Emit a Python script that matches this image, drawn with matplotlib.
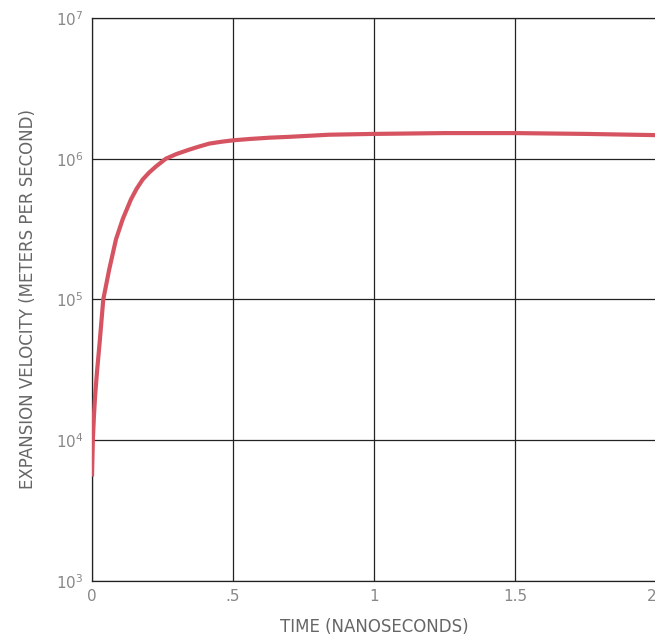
import matplotlib.pyplot as plt
import numpy as np

# time (ns) and expansion velocity (m/s)
time_ns = [0.0, 0.003, 0.007, 0.011, 0.018, 0.027, 0.040, 0.061, 0.085,
           0.109, 0.138, 0.158, 0.179, 0.202, 0.227, 0.262, 0.30, 0.345,
           0.38, 0.416, 0.46, 0.5, 0.558, 0.63, 0.7, 0.84, 1.0, 1.25, 1.5,
           1.75, 2.0]
velocity = [5.5e3, 1.0e4, 1.5e4, 2.05e4, 3.1e4, 4.9e4, 1.0e5, 1.63e5, 2.67e5,
            3.72e5, 5.13e5, 6.1e5, 7.08e5, 7.95e5, 8.81e5, 1.0e6, 1.08e6,
            1.16e6, 1.22e6, 1.28e6, 1.32e6, 1.35e6, 1.38e6, 1.41e6, 1.43e6,
            1.48e6, 1.5e6, 1.52e6, 1.52e6, 1.5e6, 1.47e6]

xticks = [0, 0.5, 1, 1.5, 2]
xticklabels = ['0', '.5', '1', '1.5', '2']
yticks = [1e3, 1e4, 1e5, 1e6, 1e7]
yticklabels = ['$10^{3}$', '$10^{4}$', '$10^{5}$', '$10^{6}$', '$10^{7}$']

fig = plt.figure(figsize=(6.55, 6.39), dpi=100)
ax = fig.add_axes([92/655, 58.3/639, 564/655, 562.7/639])

ax.plot(time_ns, velocity, color='#d65462', lw=3.0, solid_capstyle='butt',
        solid_joinstyle='round', zorder=3)

ax.set_yscale('log')
ax.set_xlim(0, 2)
ax.set_ylim(1e3, 1e7)
ax.set_xticks(xticks)
ax.set_xticklabels(xticklabels)
ax.set_yticks(yticks)
ax.set_yticklabels(yticklabels)
ax.minorticks_off()
ax.tick_params(length=0, labelsize=11, colors='#888888', pad=6)
ax.get_xticklabels()[-1].set_horizontalalignment('right')
ax.grid(True, color='#222222', lw=0.9)

for s in ['left', 'bottom', 'top']:
    ax.spines[s].set_color('#222222')
    ax.spines[s].set_linewidth(0.9)
ax.spines['right'].set_visible(False)

ax.set_xlabel('TIME (NANOSECONDS)', fontsize=12, color='#666666', labelpad=10)
ax.set_ylabel('EXPANSION VELOCITY (METERS PER SECOND)', fontsize=12,
              color='#666666', labelpad=14)

fig.savefig('out.png', dpi=100)
